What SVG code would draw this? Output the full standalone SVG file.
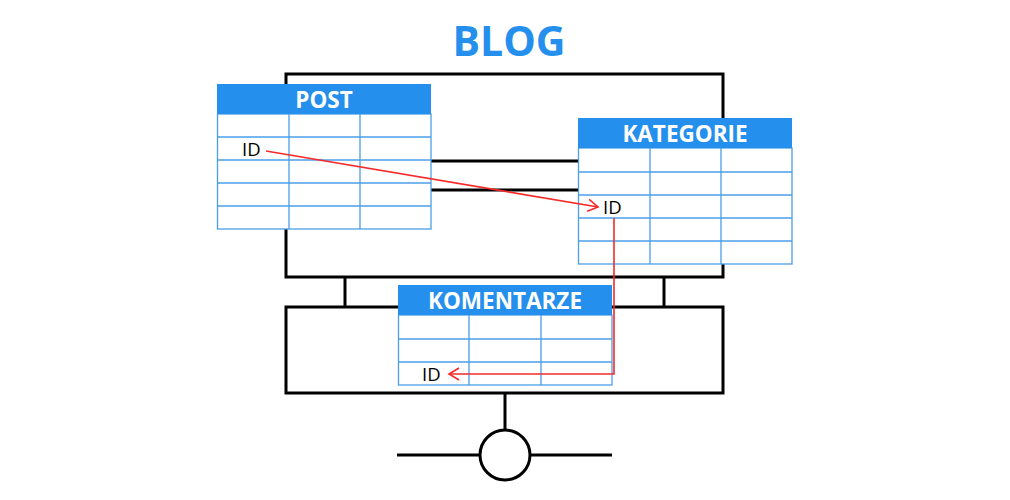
<svg xmlns="http://www.w3.org/2000/svg" width="1010" height="500" viewBox="0 0 1010 500">
<style>
.frame{fill:none;stroke:#000;stroke-width:3}
.hdr{fill:#258fed}
.cell{fill:#fff;stroke:#4b9ee9;stroke-width:1.3}
.ht{fill:#fff;font-family:"Open Sans",sans-serif;font-weight:bold;font-size:22.5px;text-anchor:middle}
.id{fill:#000;font-family:"Open Sans",sans-serif;font-size:18.5px}
.rel{fill:none;stroke:#f52a2a;stroke-width:1.6}
</style>
<defs>
<marker id="arr" markerWidth="14" markerHeight="14" refX="11" refY="7" orient="auto" markerUnits="userSpaceOnUse">
<polyline points="1,1 11,7 1,13" fill="none" stroke="#f52a2a" stroke-width="1.6"/>
</marker>
</defs>
<text x="509" y="56" font-family="'Open Sans',sans-serif" font-weight="bold" font-size="41" fill="#258fed" text-anchor="middle">BLOG</text>
<g id="structure">
<rect class="frame" x="286" y="74" width="437" height="203"/>
<line class="frame" x1="286" y1="161" x2="723" y2="161"/>
<line class="frame" x1="286" y1="190" x2="723" y2="190"/>
<line class="frame" x1="345" y1="277" x2="345" y2="307"/>
<line class="frame" x1="664" y1="277" x2="664" y2="307"/>
<rect class="frame" x="286" y="307" width="437" height="86"/>
<line class="frame" x1="505" y1="393" x2="505" y2="430"/>
<circle class="frame" cx="505" cy="455" r="25"/>
<line class="frame" x1="397" y1="455" x2="480" y2="455"/>
<line class="frame" x1="530" y1="455" x2="612" y2="455"/>
</g>
<g id="post">
<rect class="cell" x="217.5" y="114" width="213.5" height="115"/>
<rect class="hdr" x="217" y="84" width="214" height="30"/>
<path class="cell" d="M217.5 137H431M217.5 160H431M217.5 183H431M217.5 206H431M289 114V229M360 114V229"/>
<text class="ht" x="324" y="107.5">POST</text>
<text class="id" x="242" y="156">ID</text>
</g>
<g id="kategorie">
<rect class="cell" x="578.5" y="148" width="213.5" height="116"/>
<rect class="hdr" x="578" y="118" width="214" height="30"/>
<path class="cell" d="M578.5 172H792M578.5 195H792M578.5 218H792M578.5 241H792M650 148V264M721 148V264"/>
<text class="ht" x="685" y="141.5">KATEGORIE</text>
<text class="id" x="603" y="214">ID</text>
</g>
<g id="komentarze">
<rect class="cell" x="398.5" y="315" width="213.5" height="70"/>
<rect class="hdr" x="398" y="285" width="214" height="30"/>
<path class="cell" d="M398.5 339H612M398.5 362H612M469 315V385M541 315V385"/>
<text class="ht" x="505" y="308.5">KOMENTARZE</text>
<text class="id" x="422" y="381">ID</text>
</g>
<g id="connectors">
<line class="rel" x1="266" y1="151" x2="598" y2="207" marker-end="url(#arr)"/>
<polyline class="rel" points="614,218 614,374 449,374" marker-end="url(#arr)"/>
</g>
</svg>
